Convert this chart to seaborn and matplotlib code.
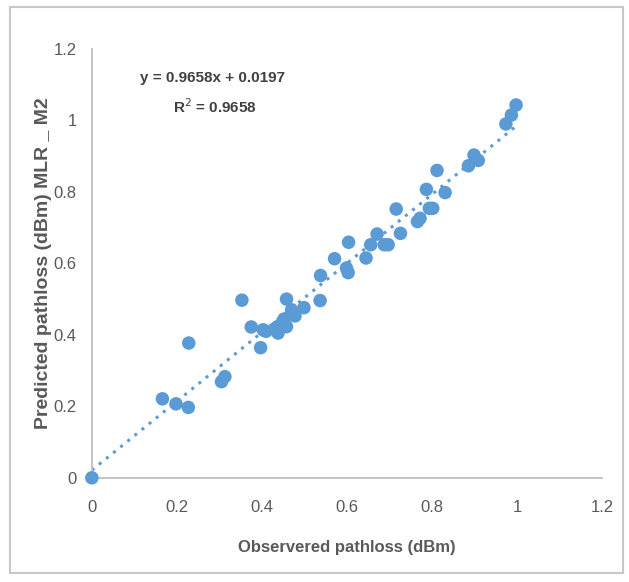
import numpy as np
import pandas as pd
import seaborn as sns
import matplotlib.pyplot as plt
from matplotlib.patches import Rectangle

# observed vs predicted pathloss
observed = [0.0, 0.166, 0.198, 0.227, 0.228, 0.305, 0.313, 0.353, 0.375, 0.397,
            0.403, 0.41, 0.437, 0.438, 0.452, 0.458, 0.458, 0.47, 0.478, 0.499,
            0.537, 0.538, 0.571, 0.599, 0.603, 0.604, 0.645, 0.656, 0.671, 0.688,
            0.697, 0.716, 0.726, 0.766, 0.772, 0.787, 0.794, 0.802, 0.812, 0.831,
            0.886, 0.899, 0.909, 0.974, 0.987, 0.998]
predicted = [0.0, 0.221, 0.207, 0.197, 0.377, 0.269, 0.283, 0.497, 0.422, 0.364,
             0.414, 0.41, 0.423, 0.405, 0.444, 0.5, 0.423, 0.47, 0.453, 0.476,
             0.496, 0.566, 0.613, 0.587, 0.574, 0.659, 0.615, 0.652, 0.682, 0.652,
             0.652, 0.752, 0.684, 0.717, 0.726, 0.807, 0.754, 0.754, 0.86, 0.798,
             0.873, 0.903, 0.888, 0.99, 1.015, 1.043]
ticks = [0, 0.2, 0.4, 0.6, 0.8, 1, 1.2]
tick_labels = ['0', '0.2', '0.4', '0.6', '0.8', '1', '1.2']
equation = 'y = 0.9658x + 0.0197'
r2_text = 'R$^2$ = 0.9658'

df = pd.DataFrame({'observed': observed, 'predicted': predicted})

sns.set_style('white')
plt.rcParams['font.family'] = ['Liberation Sans', 'DejaVu Sans']

blue = '#5B9BD5'
grey = '#595959'

fig = plt.figure(figsize=(6.29, 5.82), dpi=100)
fig.patches.append(Rectangle((0.016, 0.016), 0.975, 0.972, transform=fig.transFigure,
                             fill=False, edgecolor='#c8c8c8', linewidth=1.5))
ax = fig.add_axes([0.146, 0.179, 0.811, 0.737])

sns.regplot(data=df, x='observed', y='predicted', ax=ax, scatter=False, ci=None,
            line_kws={'color': blue, 'linestyle': (0, (1, 2)), 'linewidth': 2.2})
sns.scatterplot(data=df, x='observed', y='predicted', ax=ax, color=blue, s=95,
                edgecolor='none', zorder=3, clip_on=False)

ax.set_xlim(0, 1.2)
ax.set_ylim(0, 1.2)
ax.set_xticks(ticks)
ax.set_xticklabels(tick_labels)
ax.set_yticks(ticks)
ax.set_yticklabels(tick_labels)
ax.tick_params(length=0, labelsize=12, colors=grey)
ax.tick_params(axis='x', pad=16)
ax.tick_params(axis='y', pad=11)
for side in ['top', 'right']:
    ax.spines[side].set_visible(False)
for side in ['left', 'bottom']:
    ax.spines[side].set_color('#bfbfbf')
    ax.spines[side].set_linewidth(1.3)

ax.set_xlabel('Observered pathloss (dBm)', fontsize=12, fontweight='bold', color=grey)
ax.xaxis.set_label_coords(0.5, -0.145)
ax.set_ylabel('Predicted pathloss (dBm) MLR _ M2', fontsize=14, fontweight='bold', color=grey)
ax.yaxis.set_label_coords(-0.078, 0.5)

ax.text(0.285, 1.119, equation, fontsize=11, fontweight='bold', color='#404040', ha='center', va='center')
ax.text(0.289, 1.038, r2_text, fontsize=11, fontweight='bold', color='#404040', ha='center', va='center')

fig.savefig('out.png', dpi=100)
